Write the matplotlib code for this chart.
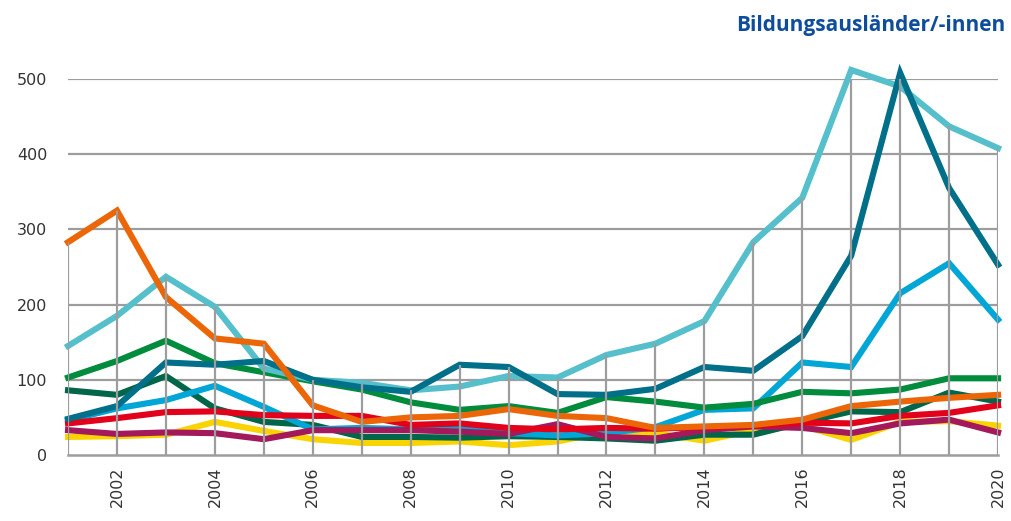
import numpy as np
import matplotlib.pyplot as plt

years = np.arange(2001, 2021)

# series values
orange = [283, 325, 210, 155, 148, 66, 44, 50, 52, 61, 52, 49, 36, 38, 40, 47, 65, 71, 76, 80]
light_teal = [145, 185, 237, 197, 115, 100, 96, 86, 91, 105, 103, 133, 148, 178, 283, 342, 512, 490, 437, 408]
dark_teal = [48, 65, 123, 120, 125, 100, 90, 84, 120, 117, 81, 80, 88, 117, 112, 158, 265, 508, 355, 253]
green = [103, 125, 152, 122, 110, 98, 87, 70, 60, 65, 56, 77, 71, 63, 68, 84, 82, 87, 102, 102]
dark_green = [86, 80, 105, 62, 44, 40, 24, 24, 23, 25, 24, 22, 19, 27, 27, 43, 58, 57, 83, 71]
light_blue = [46, 62, 73, 92, 64, 34, 36, 34, 37, 29, 26, 29, 37, 60, 62, 123, 117, 215, 255, 180]
red = [42, 49, 57, 58, 53, 52, 52, 40, 42, 36, 34, 36, 35, 37, 39, 43, 42, 52, 56, 66]
magenta = [33, 28, 30, 29, 21, 33, 33, 33, 31, 28, 41, 24, 22, 33, 38, 36, 29, 42, 47, 30]
yellow = [24, 25, 27, 44, 32, 21, 16, 16, 18, 13, 18, 31, 29, 19, 33, 39, 20, 44, 45, 39]

series = [
    (yellow, '#FAD400'),
    (dark_green, '#00664A'),
    (light_blue, '#00A6D6'),
    (magenta, '#A3195B'),
    (red, '#E2001A'),
    (green, '#008C3C'),
    (light_teal, '#55BFCB'),
    (dark_teal, '#006F8A'),
    (orange, '#EC6608'),
]

grid_col = '#9D9D9D'

fig = plt.figure(figsize=(10.11, 5.21), dpi=100)
ax = fig.add_axes([0.0673, 0.1267, 0.9199, 0.7217])

for yv in range(100, 501, 100):
    ax.plot([years[0], years[-1]], [yv, yv], color=grid_col, lw=1.6, zorder=1)
ax.plot([years[0], years[-1]], [0, 0], color=grid_col, lw=1.8, zorder=1, clip_on=False)

for vals, col in series:
    ax.plot(years, vals, color=col, lw=4.4, solid_joinstyle='miter', zorder=2, clip_on=False)

# drop lines from the highest value in each year
tops = np.max([s[0] for s in series], axis=0)
ax.vlines(years, 0, tops, colors=grid_col, lw=1.6, zorder=3)

ax.set_xlim(years[0], years[-1])
ax.set_ylim(0, 500)
for s in ax.spines.values():
    s.set_visible(False)

ax.set_yticks(range(0, 501, 100))
ax.set_xticks(years[1::2])
ax.set_xticklabels([str(y) for y in years[1::2]], rotation=90, fontsize=11.5, color='#333333')
ax.tick_params(axis='y', length=0, pad=15, labelsize=11.5, labelcolor='#333333')
ax.tick_params(axis='x', length=0, pad=8)

fig.text(0.994, 0.952, 'Bildungsausländer/-innen', ha='right', va='center',
         fontsize=15, fontweight='bold', color='#0E4D9B', family='Open Sans')

fig.savefig('out.png', dpi=100)
